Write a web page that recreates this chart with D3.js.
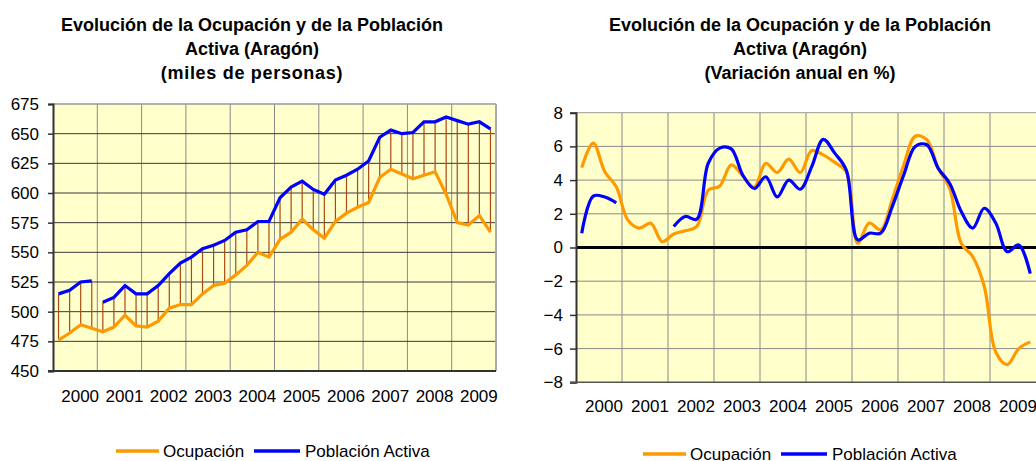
<!doctype html>
<html>
<head>
<meta charset="utf-8">
<title>Ocupación y Población Activa (Aragón)</title>
<script src="https://cdn.jsdelivr.net/npm/d3@7"></script>
<style>
  body { margin:0; background:#fff; }
  svg { display:block; font-family:"Liberation Sans", Arial, sans-serif; }
  .titulo { font-size:18px; font-weight:bold; fill:#000; }
  .eje text { font-size:17px; fill:#000; }
  .leyenda { font-size:17px; fill:#000; }
</style>
</head>
<body>
<svg id="graf" width="1036" height="461"></svg>
<script>
// datos trimestrales 2000-2009 (miles de personas)
var years = ["2000","2001","2002","2003","2004","2005","2006","2007","2008","2009"]

var ocupacion = [476,482,489,486, 483,487,497,488, 487,492,503,506, 506,515,522,524,
                 531,539,550,546, 561,567,578,569, 562,576,583,588, 592,613,620,616,
                 612,615,618,599, 575,573,581,567]
var activa    = [515,518,525,526, 508,512,522,515, 515,522,532,541, 546,553,556,560,
                 567,569,576,576, 596,605,610,603, 599,611,615,620, 627,647,653,650,
                 651,660,660,664, 661,658,660,654]
// la serie de activos se corta antes de este trimestre
var activaBreaks = [4]

// variación anual en %
var varOcupacion = [4.74,6.2,4.5,3.6, 1.64,1.15,1.44,0.35, 0.8,0.99,1.25,3.4, 3.65,4.9,4.25,3.58,
                    5.0,4.45,5.25,4.45, 5.75,5.5,5.05,4.5, 0.25,1.45,1.05,2.85, 4.9,6.6,6.4,4.7,
                    3.5,0.25,-0.55,-2.3, -6.2,-6.95,-6.0,-5.6]
var varActiva = [0.85,3.05,3.0,2.65, null,null,null,null, 1.25,1.84,1.68,5.0, 5.9,5.85,4.3,3.5,
                 4.2,3.0,4.0,3.46, 4.8,6.42,5.6,4.6, 0.45,0.85,0.85,2.43, 4.3,6.0,6.1,4.7,
                 3.8,2.13,1.15,2.33, 1.45,-0.25,0.15,-1.55]

var ticksMiles = d3.range(450, 676, 25)
var ticksVar = d3.range(-8, 9, 2)

var naranja = "#FF9900", azul = "#0000FF", fondo = "#FFFFCC"
var svg = d3.select("#graf")

function titulo(cx, lineas, spacing) {
  lineas.forEach(function(t, k) {
    svg.append("text").attr("class","titulo")
      .attr("x", cx).attr("y", 31 + 24*k)
      .attr("text-anchor","middle")
      .style("letter-spacing", k==2 ? spacing : "0px")
      .text(t)
  })
}

function leyenda(x0, y0) {
  var g = svg.append("g").attr("transform","translate("+x0+","+y0+")")
  g.append("line").attr("x1",0).attr("x2",43).attr("y1",0).attr("y2",0)
    .style("stroke",naranja).style("stroke-width",3.5)
  g.append("text").attr("class","leyenda").attr("x",47).attr("y",5.5).text("Ocupación")
  g.append("line").attr("x1",138).attr("x2",184).attr("y1",0).attr("y2",0)
    .style("stroke",azul).style("stroke-width",3.5)
  g.append("text").attr("class","leyenda").attr("x",189).attr("y",5.5).text("Población Activa")
}

// ---------- gráfico izquierdo: niveles ----------
var xL = d3.scaleLinear().domain([0,40]).range([53,496])
var yL = d3.scaleLinear().domain([450,675]).range([371,104])
var bandL = d3.scaleBand().domain(years).range([53,496])

svg.append("rect").attr("x",53).attr("y",104).attr("width",443).attr("height",267).style("fill",fondo)

svg.append("g").selectAll("line").data(years.slice(1)).enter().append("line")
  .attr("x1", function(d){ return bandL(d) }).attr("x2", function(d){ return bandL(d) })
  .attr("y1",104).attr("y2",371).style("stroke","#8a8a8a").style("stroke-width",1)

svg.append("g").selectAll("line").data(ticksMiles.slice(1, -1)).enter().append("line")
  .attr("x1",53).attr("x2",496)
  .attr("y1", function(d){ return yL(d) }).attr("y2", function(d){ return yL(d) })
  .style("stroke","#3a3a3a").style("stroke-width",1)

// borde
svg.append("line").attr("x1",53).attr("x2",496).attr("y1",104).attr("y2",104).style("stroke","#999").style("stroke-width",1.5)
svg.append("line").attr("x1",496).attr("x2",496).attr("y1",104).attr("y2",371).style("stroke","#aaa").style("stroke-width",2)

// líneas de máximos y mínimos
svg.append("g").selectAll("line").data(ocupacion).enter().append("line")
  .attr("x1", function(d,i){ return xL(i+0.5) }).attr("x2", function(d,i){ return xL(i+0.5) })
  .attr("y1", function(d,i){ return yL(activa[i]) })
  .attr("y2", function(d){ return yL(d) })
  .style("stroke","#a84a14").style("stroke-width",1.2)

var lineaL = d3.line().x(function(d){ return xL(d[0]+0.5) }).y(function(d){ return yL(d[1]) })

svg.append("path").datum(ocupacion.map(function(v,i){ return [i,v] }))
  .attr("d", lineaL).style("fill","none").style("stroke",naranja).style("stroke-width",3.2)

var cortes = [0].concat(activaBreaks).concat([activa.length])
for (var k=0; k<cortes.length-1; k++) {
  var tramo = []
  for (var i=cortes[k]; i<cortes[k+1]; i++) tramo.push([i, activa[i]])
  svg.append("path").datum(tramo).attr("d", lineaL)
    .style("fill","none").style("stroke",azul).style("stroke-width",3.2)
}

var ejeYL = svg.append("g").attr("class","eje").attr("transform","translate(53,0)")
  .call(d3.axisLeft(yL).tickValues(ticksMiles).tickSize(5).tickPadding(9))
ejeYL.select(".domain").style("stroke","#333").style("stroke-width",2)
ejeYL.selectAll(".tick line").style("stroke","#333").style("stroke-width",1.5)

svg.append("line").attr("x1",48).attr("x2",496).attr("y1",371).attr("y2",371).style("stroke","#333").style("stroke-width",2)

svg.append("g").selectAll("text").data(years).enter().append("text")
  .attr("class","leyenda")
  .attr("x", function(d){ return bandL(d) + bandL.bandwidth()/2 + 5 })
  .attr("y", 402).attr("text-anchor","middle").text(function(d){ return d })

titulo(252, ["Evolución de la Ocupación y de la Población", "Activa (Aragón)", "(miles de personas)"], "0.7px")
leyenda(116, 451)

// ---------- gráfico derecho: variación anual ----------
var xR = d3.scaleLinear().domain([0,40]).range([576,1036])
var yR = d3.scaleLinear().domain([-8,8]).range([382.3,112.7])
var bandR = d3.scaleBand().domain(years).range([576,1036])

svg.append("rect").attr("x",576).attr("y",112.7).attr("width",460).attr("height",269.6).style("fill",fondo)

svg.append("g").selectAll("line").data(years.slice(1)).enter().append("line")
  .attr("x1", function(d){ return bandR(d) }).attr("x2", function(d){ return bandR(d) })
  .attr("y1",112.7).attr("y2",382.3).style("stroke","#8a8a8a").style("stroke-width",1)

svg.append("g").selectAll("line").data(ticksVar.slice(1)).enter().append("line")
  .attr("x1",576).attr("x2",1036)
  .attr("y1", function(d){ return yR(d) }).attr("y2", function(d){ return yR(d) })
  .style("stroke", function(d){ return d==8 ? "#999" : "#8a8a8a" }).style("stroke-width",1)

svg.append("line").attr("x1",576).attr("x2",1036).attr("y1",yR(0)).attr("y2",yR(0))
  .style("stroke","#000").style("stroke-width",3)

var lineaR = d3.line().defined(function(d){ return d[1] != null })
  .curve(d3.curveCatmullRom)
  .x(function(d){ return xR(d[0]+0.5) }).y(function(d){ return yR(d[1]) })

svg.append("path").datum(varOcupacion.map(function(v,i){ return [i,v] }))
  .attr("d", lineaR).style("fill","none").style("stroke",naranja).style("stroke-width",3.2)
svg.append("path").datum(varActiva.map(function(v,i){ return [i,v] }))
  .attr("d", lineaR).style("fill","none").style("stroke",azul).style("stroke-width",3.2)

var ejeYR = svg.append("g").attr("class","eje").attr("transform","translate(576,0)")
  .call(d3.axisLeft(yR).tickValues(ticksVar).tickSize(6).tickPadding(7))
ejeYR.select(".domain").style("stroke","#333").style("stroke-width",2)
ejeYR.selectAll(".tick line").style("stroke","#333").style("stroke-width",1.5)

svg.append("line").attr("x1",570).attr("x2",1036).attr("y1",382.3).attr("y2",382.3).style("stroke","#555").style("stroke-width",1.5)

svg.append("g").selectAll("text").data(years).enter().append("text")
  .attr("class","leyenda")
  .attr("x", function(d){ return bandR(d) + bandR.bandwidth()/2 + 5 })
  .attr("y", 412).attr("text-anchor","middle").text(function(d){ return d })

titulo(800, ["Evolución de la Ocupación y de la Población", "Activa (Aragón)", "(Variación anual en %)"], "0px")
leyenda(643, 454)
</script>
</body>
</html>
